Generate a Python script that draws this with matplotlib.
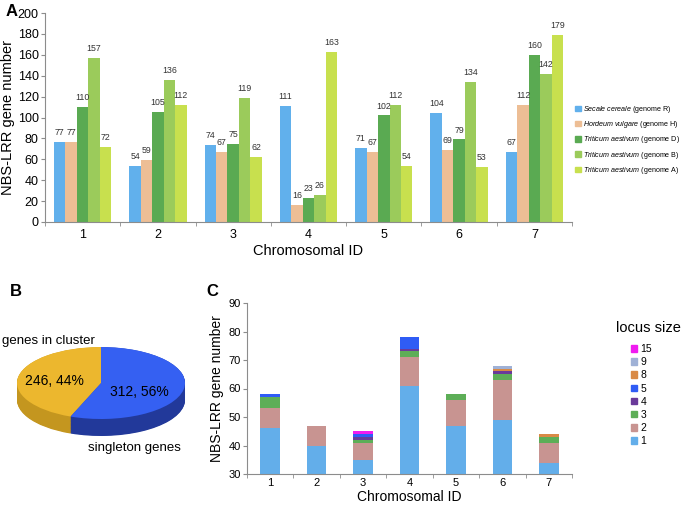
import numpy as np
import matplotlib
matplotlib.use("Agg")
import matplotlib.pyplot as plt
from matplotlib.patches import Patch

plt.rcParams["font.family"] = ["Liberation Sans", "DejaVu Sans"]
plt.rcParams["mathtext.fontset"] = "custom"
plt.rcParams["mathtext.it"] = "Liberation Sans:italic"
plt.rcParams["mathtext.rm"] = "Liberation Sans"

# ---- panel A data
chromosomes = ["1", "2", "3", "4", "5", "6", "7"]
genome_labels = [r"$\it{Secale\ cereale}$ (genome R)",
                 r"$\it{Hordeum\ vulgare}$ (genome H)",
                 r"$\it{Triticum\ aestivum}$ (genome D)",
                 r"$\it{Triticum\ aestivum}$ (genome B)",
                 r"$\it{Triticum\ aestivum}$ (genome A)"]
genome_R = [77, 54, 74, 111, 71, 104, 67]
genome_H = [77, 59, 67, 16, 67, 69, 112]
genome_D = [110, 105, 75, 23, 102, 79, 160]
genome_B = [157, 136, 119, 26, 112, 134, 142]
genome_A = [72, 112, 62, 163, 54, 53, 179]
genome_colors = ["#61B0EC", "#EDBE95", "#5AAA52", "#9BCB5B", "#C8E04E"]

# ---- panel B data
pie_labels = ["genes in cluster", "singleton genes"]
pie_values = [246, 312]
pie_colors = ["#ECB72E", "#3560F2"]
pie_side_colors = ["#C4961F", "#22399A"]

# ---- panel C data
locus_sizes = ["1", "2", "3", "4", "5", "8", "9", "15"]
locus_counts = {
    "1": [46, 40, 35, 61, 47, 49, 34],
    "2": [7, 7, 6, 10, 9, 14, 7],
    "3": [4, 0, 1, 2, 2, 2, 2],
    "4": [0, 0, 1, 1, 0, 1, 0],
    "5": [1, 0, 1, 4, 0, 0, 0],
    "8": [0, 0, 0, 0, 0, 1, 1],
    "9": [0, 0, 0, 0, 0, 1, 0],
    "15": [0, 0, 1, 0, 0, 0, 0],
}
locus_colors = {"1": "#63AEEA", "2": "#C89491", "3": "#5DAE57", "4": "#6A3A9A",
                "5": "#2F5CF5", "8": "#D98A46", "9": "#9FB1D6", "15": "#F01BF0"}

W, H = 686, 505
fig = plt.figure(figsize=(W / 100, H / 100), dpi=100)


def style_axes(ax, n):
    for s in ("top", "right"):
        ax.spines[s].set_visible(False)
    for s in ("left", "bottom"):
        ax.spines[s].set_color("#8c8c8c")
        ax.spines[s].set_linewidth(0.8)
    ax.set_xticks(np.arange(1, n + 1))
    ax.set_xticks(np.arange(0.5, n + 1, 1.0), minor=True)
    ax.tick_params(axis="x", which="major", length=0, pad=5)
    ax.tick_params(axis="x", which="minor", length=3, color="#8c8c8c")
    ax.tick_params(axis="y", length=3, color="#8c8c8c", pad=1.5)
    ax.set_xlim(0.5, n + 0.5)


# ---- A
axA = fig.add_axes([45 / W, 1 - 222 / H, 527 / W, 209 / H])
x = np.arange(1, len(chromosomes) + 1)
series = [genome_R, genome_H, genome_D, genome_B, genome_A]
bw = 0.152
for i, (vals, col) in enumerate(zip(series, genome_colors)):
    pos = x + (i - 2) * bw
    axA.bar(pos, vals, width=bw, color=col, label=genome_labels[i])
    for px, v in zip(pos, vals):
        axA.annotate(str(v), (px, v), xytext=(0, 3.5), textcoords="offset points",
                     ha="center", va="bottom", fontsize=6.3, color="#333333")
style_axes(axA, len(chromosomes))
axA.set_ylim(0, 200)
axA.set_yticks(range(0, 201, 20))
axA.set_xticklabels(chromosomes, fontsize=9)
axA.tick_params(axis="y", labelsize=9)
axA.set_ylabel("NBS-LRR gene number", fontsize=10.5, labelpad=2)
axA.set_xlabel("Chromosomal ID", fontsize=10.5, labelpad=2)
handles = [Patch(color=c, label=l) for c, l in zip(genome_colors, genome_labels)]
fig.legend(handles=handles, loc="upper left", bbox_to_anchor=(572 / W, 1 - 101 / H),
           frameon=False, fontsize=5.1, handlelength=0.8, handleheight=0.8,
           handletextpad=0.3, labelspacing=0.6, borderaxespad=0)

# ---- B (pseudo-3D pie)
axB = fig.add_axes([0, 1 - 460 / H, 200 / W, 140 / H])
depth = 17 / 36
for d in np.linspace(depth, 0.005, 30):
    axB.pie(pie_values, colors=pie_side_colors, startangle=90, counterclock=True,
            center=(0, -d), radius=1, wedgeprops=dict(linewidth=0))
axB.pie(pie_values, colors=pie_colors, startangle=90, counterclock=True,
        center=(0, 0), radius=1, wedgeprops=dict(linewidth=0))
axB.set_aspect("auto")
axB.set_xlim((0 - 101) / 84, (200 - 101) / 84)
axB.set_ylim((383 - 460) / 36, (383 - 320) / 36)
axB.axis("off")
total = sum(pie_values)
pcts = [round(100 * v / total) for v in pie_values]
axB.text(-0.55, 0.05, f"{pie_values[0]}, {pcts[0]}%", ha="center", va="center", fontsize=10)
axB.text(0.46, -0.25, f"{pie_values[1]}, {pcts[1]}%", ha="center", va="center", fontsize=10)
axB.text(-1.18, 1.17, pie_labels[0], ha="left", va="center", fontsize=9.5)
axB.text(-0.16, -1.8, pie_labels[1], ha="left", va="center", fontsize=9.5)

# ---- C
axC = fig.add_axes([247 / W, 1 - 474 / H, 325 / W, 171 / H])
bottom = np.zeros(len(chromosomes))
for k in locus_sizes:
    vals = np.array(locus_counts[k], dtype=float)
    axC.bar(x, vals, width=0.42, bottom=bottom, color=locus_colors[k], label=k)
    bottom += vals
style_axes(axC, len(chromosomes))
axC.set_ylim(30, 90)
axC.set_yticks(range(30, 91, 10))
axC.set_xticklabels(chromosomes, fontsize=8)
axC.tick_params(axis="y", labelsize=8)
axC.tick_params(axis="x", which="major", pad=3)
axC.set_ylabel("NBS-LRR gene number", fontsize=10, labelpad=3)
axC.set_xlabel("Chromosomal ID", fontsize=10, labelpad=1)
handlesC = [Patch(color=locus_colors[k], label=k) for k in reversed(locus_sizes)]
fig.legend(handles=handlesC, loc="upper left", bbox_to_anchor=(627 / W, 1 - 340 / H),
           frameon=False, fontsize=7.5, handlelength=0.6, handleheight=0.6,
           handletextpad=0.3, labelspacing=0.3, borderaxespad=0)
fig.text(616 / W, 1 - 328 / H, "locus size", fontsize=10.5, va="center", ha="left")

fig.text(6 / W, 1 - 12 / H, "A", fontsize=12, fontweight="bold", va="center")
fig.text(10 / W, 1 - 292 / H, "B", fontsize=12, fontweight="bold", va="center")
fig.text(206 / W, 1 - 292 / H, "C", fontsize=12, fontweight="bold", va="center")

fig.savefig("out.png", dpi=100)
